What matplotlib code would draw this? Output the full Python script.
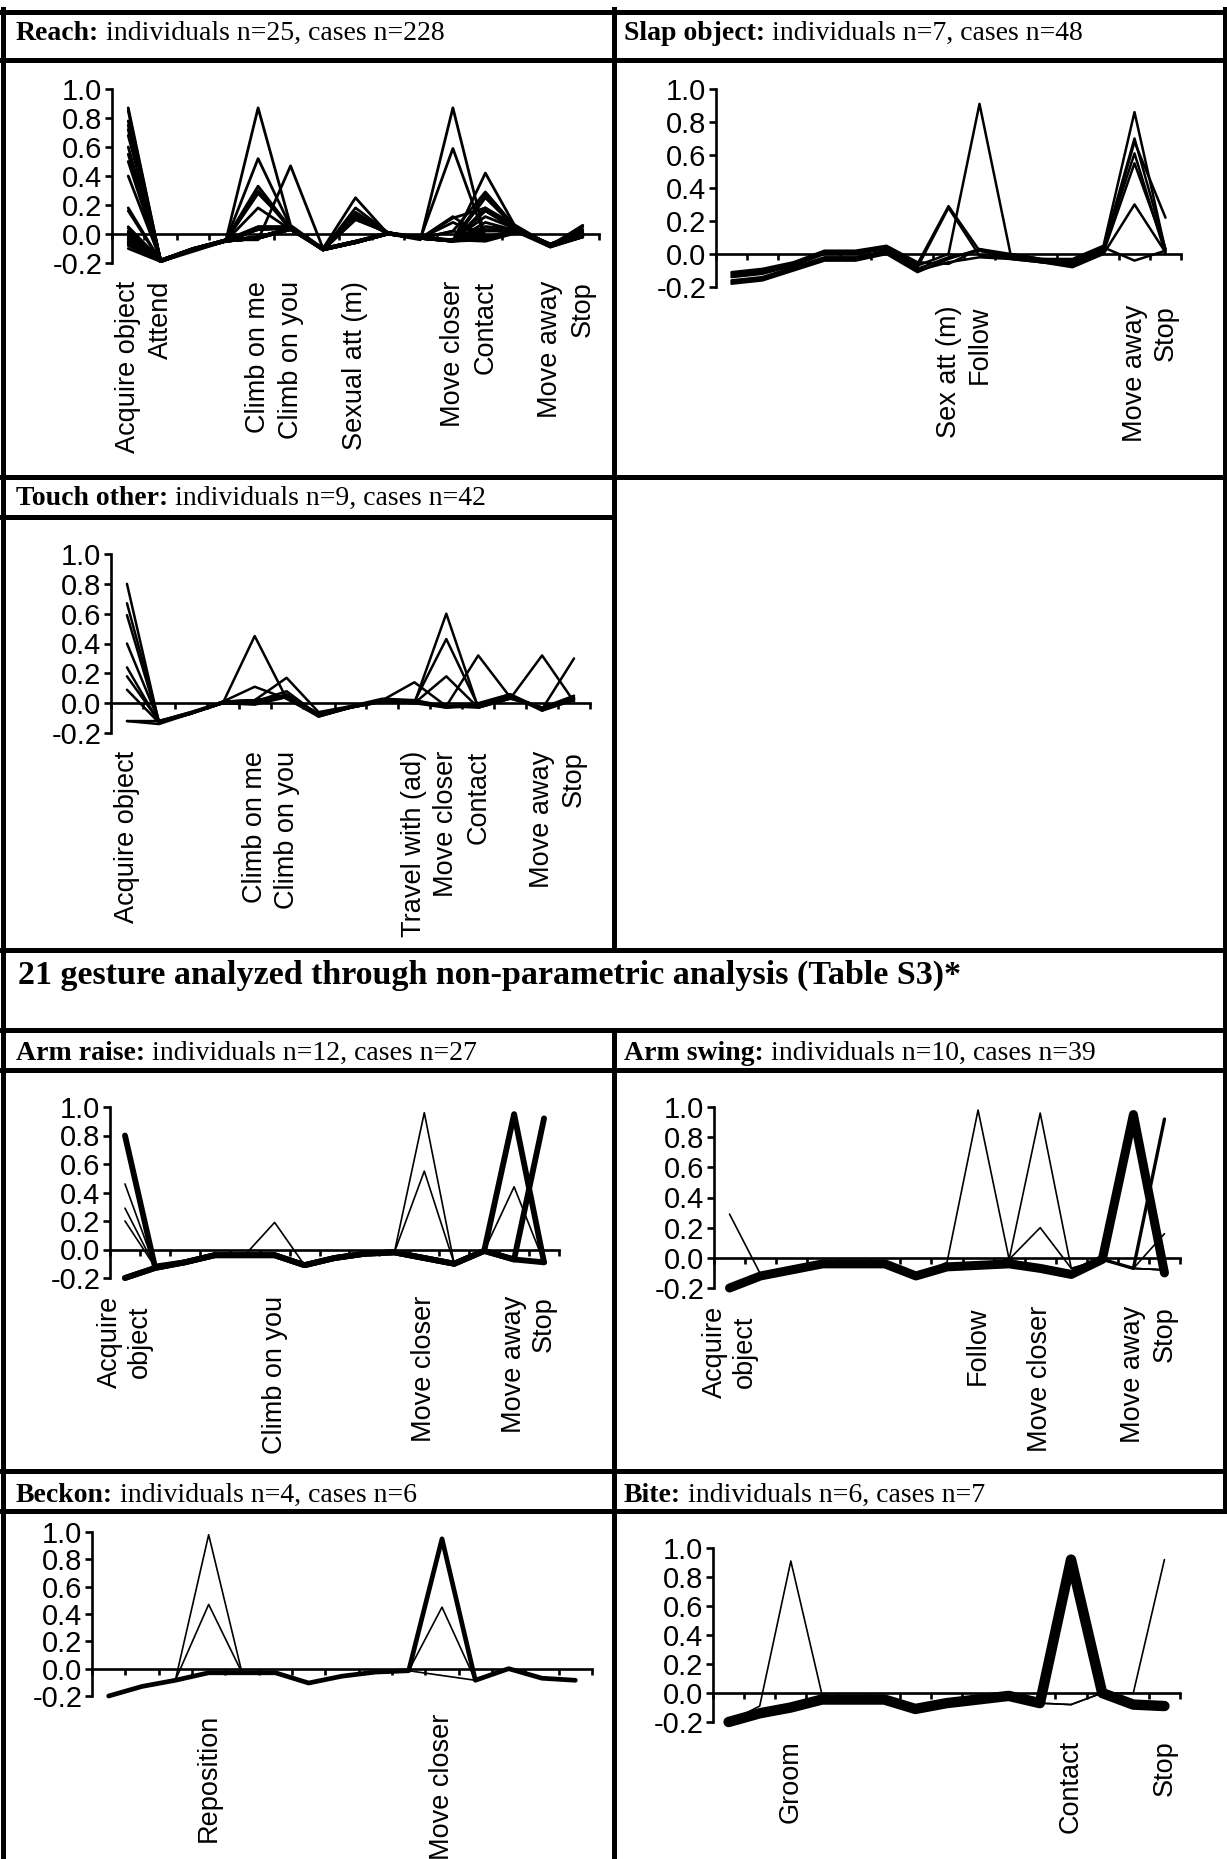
import numpy as np
import matplotlib
matplotlib.use('Agg')
import matplotlib.pyplot as plt
from matplotlib.ticker import FormatStrFormatter

W, H = 1227, 1859

plt.rcParams['font.family'] = ['Liberation Sans', 'DejaVu Sans']
plt.rcParams['axes.unicode_minus'] = False

# 15 outcome categories on every x axis, only some of them get a label
x = list(range(15))
yticks = [-0.2, 0.0, 0.2, 0.4, 0.6, 0.8, 1.0]

# ---- Reach: one profile per individual ----
reach = [
    [0.87, -0.19, -0.11, -0.05, -0.03, 0.03, -0.10, -0.06, 0.00, -0.03, -0.04, -0.03, 0.02, -0.08, -0.02],
    [0.85, -0.19, -0.11, -0.05, -0.03, 0.03, -0.10, -0.06, 0.00, -0.03, -0.05, -0.03, 0.02, -0.08, -0.02],
    [0.78, -0.18, -0.10, -0.04, -0.02, 0.04, -0.10, -0.05, 0.01, -0.03, -0.04, 0.05, 0.03, -0.07, -0.01],
    [0.75, -0.18, -0.10, -0.04, 0.03, 0.04, -0.10, -0.06, 0.00, -0.02, -0.04, -0.02, 0.03, -0.08, 0.00],
    [0.72, -0.19, -0.11, -0.05, -0.02, 0.03, -0.11, -0.06, 0.00, -0.03, 0.02, -0.03, 0.02, -0.08, -0.02],
    [0.68, -0.18, -0.10, -0.05, -0.03, 0.05, -0.10, -0.05, 0.01, -0.03, -0.04, 0.03, 0.03, -0.07, 0.00],
    [0.60, -0.19, -0.11, -0.04, -0.02, 0.04, -0.11, 0.10, 0.01, -0.03, -0.04, -0.02, 0.02, -0.08, -0.01],
    [0.55, -0.18, -0.10, -0.04, 0.05, 0.05, -0.10, -0.06, 0.00, -0.03, -0.04, 0.12, 0.03, -0.07, 0.00],
    [0.50, -0.19, -0.11, -0.05, -0.03, 0.04, -0.11, -0.06, 0.00, -0.03, 0.08, -0.02, 0.02, -0.08, -0.02],
    [0.40, -0.18, -0.11, -0.05, 0.18, 0.03, -0.10, -0.05, 0.00, -0.03, -0.04, 0.05, 0.03, -0.07, 0.00],
    [0.18, -0.19, -0.11, -0.05, 0.03, 0.04, -0.10, 0.15, 0.01, -0.03, -0.05, 0.16, 0.02, -0.08, 0.03],
    [0.16, -0.19, -0.11, -0.05, -0.02, 0.04, -0.11, 0.12, 0.00, -0.03, 0.11, 0.18, 0.02, -0.07, 0.01],
    [0.00, -0.19, -0.12, -0.05, 0.87, 0.06, -0.10, -0.06, 0.00, -0.03, -0.05, -0.04, 0.02, -0.08, -0.02],
    [-0.02, -0.18, -0.11, -0.05, 0.52, 0.05, -0.11, -0.06, 0.00, -0.03, 0.12, -0.03, 0.03, -0.07, 0.00],
    [-0.03, -0.19, -0.11, -0.04, 0.33, 0.04, -0.10, 0.25, 0.00, -0.03, -0.04, 0.27, 0.02, -0.08, 0.05],
    [-0.05, -0.19, -0.11, -0.05, 0.30, 0.03, -0.11, 0.18, 0.01, -0.02, -0.05, 0.25, 0.03, -0.07, 0.02],
    [-0.06, -0.18, -0.10, -0.05, 0.28, 0.05, -0.10, 0.13, 0.01, -0.03, 0.02, 0.29, 0.03, -0.08, 0.00],
    [-0.08, -0.18, -0.10, -0.04, -0.04, 0.47, -0.10, -0.05, 0.00, -0.03, -0.05, 0.42, 0.02, -0.08, -0.01],
    [-0.10, -0.19, -0.11, -0.05, -0.03, 0.05, -0.11, -0.06, 0.00, -0.04, 0.87, -0.03, 0.02, -0.09, -0.02],
    [0.02, -0.19, -0.11, -0.05, -0.02, 0.04, -0.10, -0.05, 0.00, -0.03, 0.59, -0.03, 0.02, -0.08, 0.00],
    [-0.04, -0.19, -0.11, -0.05, 0.05, 0.05, -0.11, 0.10, 0.01, -0.03, -0.04, 0.16, 0.03, -0.08, 0.06],
    [-0.07, -0.18, -0.11, -0.04, -0.03, 0.04, -0.11, -0.06, 0.00, -0.02, -0.05, 0.18, 0.05, -0.08, 0.01],
    [0.04, -0.19, -0.11, -0.05, -0.02, 0.04, -0.10, -0.06, 0.01, -0.03, -0.05, 0.02, 0.02, -0.07, 0.03],
    [0.05, -0.18, -0.10, -0.05, -0.03, 0.03, -0.10, -0.05, 0.00, -0.03, -0.04, -0.05, 0.01, -0.09, -0.02],
    [0.01, -0.19, -0.11, -0.05, -0.03, 0.04, -0.11, -0.06, 0.00, -0.03, -0.05, 0.08, 0.02, -0.08, -0.01],
]
reach_labels = {0: 'Acquire object', 1: 'Attend', 4: 'Climb on me', 5: 'Climb on you',
                7: 'Sexual att (m)', 10: 'Move closer', 11: 'Contact', 13: 'Move away', 14: 'Stop'}

# ---- Slap object ----
slap = [
    [-0.11, -0.09, -0.05, 0.02, 0.02, 0.05, -0.05, -0.06, 0.03, 0.00, -0.03, -0.03, 0.05, 0.86, 0.02],
    [-0.13, -0.11, -0.06, 0.01, 0.01, 0.04, -0.06, 0.29, 0.02, -0.01, -0.04, -0.05, 0.04, 0.70, 0.03],
    [-0.14, -0.12, -0.07, 0.00, 0.00, 0.03, -0.08, 0.28, -0.01, -0.02, -0.04, -0.06, 0.03, 0.61, 0.00],
    [-0.16, -0.14, -0.08, -0.02, -0.02, 0.02, -0.09, -0.02, 0.02, -0.02, -0.05, -0.06, 0.02, 0.68, 0.22],
    [-0.17, -0.15, -0.09, -0.03, -0.03, 0.01, -0.10, -0.05, -0.02, -0.03, -0.05, -0.07, 0.01, 0.55, 0.03],
    [-0.18, -0.16, -0.10, -0.04, -0.04, 0.00, -0.11, -0.03, 0.03, -0.03, -0.05, -0.08, 0.00, 0.30, 0.01],
    [-0.12, -0.10, -0.06, 0.01, 0.01, 0.04, -0.07, 0.00, 0.91, 0.00, -0.03, -0.04, 0.04, -0.04, 0.02],
]
slap_labels = {7: 'Sex att (m)', 8: 'Follow', 13: 'Move away', 14: 'Stop'}

# ---- Touch other ----
touch = [
    [0.80, -0.13, -0.07, 0.01, 0.02, 0.05, -0.07, -0.03, 0.02, 0.01, -0.02, -0.01, 0.05, -0.03, 0.02],
    [0.67, -0.12, -0.07, 0.00, 0.01, 0.08, -0.08, -0.03, 0.01, 0.00, -0.03, -0.02, 0.04, -0.04, 0.03],
    [0.59, -0.13, -0.07, 0.01, 0.11, 0.03, -0.08, -0.03, 0.02, 0.02, -0.02, -0.03, 0.04, -0.03, 0.04],
    [0.40, -0.12, -0.06, 0.01, 0.02, 0.17, -0.06, -0.02, 0.03, 0.02, -0.03, 0.00, 0.06, -0.05, 0.03],
    [0.24, -0.13, -0.07, 0.00, -0.01, 0.04, -0.08, -0.03, 0.01, 0.00, 0.18, -0.03, 0.03, -0.03, 0.05],
    [0.18, -0.12, -0.07, 0.00, 0.01, 0.05, -0.07, -0.03, 0.02, 0.01, 0.43, -0.02, 0.05, -0.05, 0.02],
    [0.09, -0.13, -0.07, 0.01, 0.02, 0.04, -0.08, -0.02, 0.02, 0.14, -0.02, 0.32, 0.04, -0.03, 0.03],
    [-0.12, -0.12, -0.06, 0.00, 0.45, 0.03, -0.09, -0.03, 0.01, 0.00, 0.60, -0.03, 0.03, 0.32, 0.01],
    [-0.12, -0.14, -0.07, 0.00, 0.00, 0.06, -0.09, -0.03, 0.02, 0.01, -0.02, -0.01, 0.06, -0.04, 0.30],
]
touch_labels = {0: 'Acquire object', 4: 'Climb on me', 5: 'Climb on you', 9: 'Travel with (ad)',
                10: 'Move closer', 11: 'Contact', 13: 'Move away', 14: 'Stop'}

# ---- Arm raise ----
arm_raise = [
    [-0.20, -0.13, -0.09, -0.04, -0.04, -0.04, -0.11, -0.06, -0.03, -0.02, -0.06, -0.10, -0.01, 0.95, -0.09],
    [-0.20, -0.13, -0.09, -0.04, -0.04, -0.04, -0.11, -0.06, -0.03, -0.02, -0.06, -0.10, -0.01, -0.07, 0.92],
    [0.80, -0.12, -0.09, -0.04, -0.04, -0.04, -0.11, -0.06, -0.03, -0.02, -0.06, -0.10, -0.01, -0.07, -0.09],
    [0.46, -0.12, -0.09, -0.04, -0.04, -0.04, -0.11, -0.06, -0.03, -0.02, -0.06, -0.10, -0.01, 0.44, -0.09],
    [0.29, -0.12, -0.09, -0.04, -0.04, -0.04, -0.11, -0.06, -0.03, -0.02, 0.55, -0.10, -0.01, -0.07, -0.09],
    [0.20, -0.12, -0.09, -0.04, -0.04, 0.19, -0.11, -0.06, -0.03, -0.02, -0.06, -0.10, -0.01, -0.07, -0.09],
    [-0.20, -0.13, -0.09, -0.04, -0.04, -0.04, -0.11, -0.06, -0.03, -0.02, 0.96, -0.10, -0.01, -0.07, -0.09],
]
arm_raise_lw = [4.2, 4.2, 4.2, 1.2, 1.2, 1.2, 1.2]
arm_raise_labels = {0: 'Acquire\nobject', 5: 'Climb on you', 10: 'Move closer', 13: 'Move away', 14: 'Stop'}

# ---- Arm swing ----
arm_swing = [
    [-0.20, -0.12, -0.08, -0.04, -0.04, -0.04, -0.12, -0.06, -0.05, -0.04, -0.07, -0.11, -0.01, 0.95, -0.10],
    [-0.20, -0.12, -0.08, -0.04, -0.04, -0.04, -0.12, -0.06, -0.05, -0.04, -0.07, -0.11, -0.01, -0.07, 0.92],
    [0.29, -0.11, -0.08, -0.04, -0.04, -0.04, -0.12, -0.06, -0.05, -0.04, -0.07, -0.11, -0.01, -0.07, 0.16],
    [-0.20, -0.12, -0.08, -0.04, -0.04, -0.04, -0.12, -0.03, 0.98, -0.01, -0.07, -0.11, -0.01, -0.07, -0.08],
    [-0.20, -0.12, -0.08, -0.04, -0.04, -0.04, -0.12, -0.06, -0.05, -0.01, 0.96, -0.07, -0.01, -0.07, -0.08],
    [-0.20, -0.12, -0.08, -0.04, -0.04, -0.04, -0.12, -0.06, -0.05, -0.01, 0.20, -0.07, -0.01, -0.07, -0.08],
]
arm_swing_lw = [6.5, 2.4, 1.2, 1.2, 1.2, 1.2]
arm_swing_labels = {0: 'Acquire\nobject', 8: 'Follow', 10: 'Move closer', 13: 'Move away', 14: 'Stop'}

# ---- Beckon ----
beckon = [
    [-0.20, -0.13, -0.085, -0.03, -0.03, -0.03, -0.105, -0.055, -0.025, -0.015, 0.95, -0.085, 0.00, -0.07, -0.085],
    [-0.20, -0.13, -0.085, 0.98, -0.03, -0.03, -0.105, -0.055, -0.025, -0.015, -0.05, -0.085, 0.00, -0.07, -0.085],
    [-0.20, -0.13, -0.085, 0.47, -0.03, -0.03, -0.105, -0.055, -0.025, -0.015, 0.45, -0.085, 0.00, -0.07, -0.085],
]
beckon_lw = [3.4, 1.2, 1.2]
beckon_labels = {3: 'Reposition', 10: 'Move closer'}

# ---- Bite ----
bite = [
    [-0.20, -0.14, -0.10, -0.045, -0.045, -0.045, -0.11, -0.07, -0.045, -0.02, -0.07, 0.92, 0.00, -0.08, -0.09],
    [-0.20, -0.09, 0.91, -0.01, -0.045, -0.045, -0.11, -0.07, -0.045, -0.02, -0.07, -0.08, 0.00, -0.08, -0.09],
    [-0.20, -0.14, -0.10, -0.045, -0.045, -0.045, -0.11, -0.07, -0.045, -0.02, -0.07, -0.08, 0.00, 0.00, 0.92],
]
bite_lw = [7.5, 1.2, 1.2]
bite_labels = {2: 'Groom', 11: 'Contact', 14: 'Stop'}

fig = plt.figure(figsize=(W / 100, H / 100), dpi=100)

# full-page axes in pixel units for the table rules and headings
page = fig.add_axes([0, 0, 1, 1])
page.set_xlim(0, W)
page.set_ylim(H, 0)
page.axis('off')

rule = dict(colors='black', linewidth=3.6, capstyle='projecting')
page.hlines([11.5, 59.5, 476.5, 949.5, 1030, 1069.5, 1471, 1510.5], 0, W, **rule)
page.hlines(517, 0, 613.5, **rule)
page.vlines(2.5, 9, H, **rule)
page.vlines(1224.5, 9, 1510.5, **rule)
page.vlines(613.5, 9, 949.5, **rule)
page.vlines(613.5, 1030, H, **rule)


def heading(xl, yb, bold, rest, size=20):
    t = page.text(xl, yb, bold, family='Liberation Serif', fontweight='bold',
                  fontsize=size, va='baseline', ha='left')
    page.annotate(rest, xy=(1, 0), xycoords=t, va='bottom', ha='left',
                  family='Liberation Serif', fontsize=size)


heading(16, 40, 'Reach:', ' individuals n=25, cases n=228')
heading(624, 40, 'Slap object:', ' individuals n=7, cases n=48')
heading(16, 505, 'Touch other:', ' individuals n=9, cases n=42')
page.text(18, 984, '21 gesture analyzed through non-parametric analysis (Table S3)*',
          family='Liberation Serif', fontweight='bold', fontsize=24.5, va='baseline')
heading(16, 1060, 'Arm raise:', ' individuals n=12, cases n=27')
heading(624, 1060, 'Arm swing:', ' individuals n=10, cases n=39')
heading(16, 1502, 'Beckon:', ' individuals n=4, cases n=6')
heading(624, 1502, 'Bite:', ' individuals n=6, cases n=7')


def panel(box, series, widths, labels):
    left, right, top, bottom = box
    ax = fig.add_axes([left / W, 1 - bottom / H, (right - left) / W, (bottom - top) / H])
    ax.patch.set_visible(False)
    ax.set_xlim(-0.5, 14.5)
    ax.set_ylim(-0.2, 1.0)
    for s, w in zip(series, widths):
        ax.plot(x, s, color='black', lw=w, solid_joinstyle='round',
                solid_capstyle='round', clip_on=False)
    ax.spines[['top', 'right']].set_visible(False)
    ax.spines['bottom'].set_position(('data', 0))
    for side in ('left', 'bottom'):
        ax.spines[side].set_linewidth(1.9)
    ax.set_xticks(np.arange(-0.5, 15, 1))
    ax.tick_params(axis='x', direction='out', length=4.5, width=1.9, labelbottom=False)
    ax.set_yticks(yticks)
    ax.yaxis.set_major_formatter(FormatStrFormatter('%.1f'))
    ax.tick_params(axis='y', direction='out', length=5, width=1.9, labelsize=21, pad=2)
    for i, lab in labels.items():
        ax.annotate(lab, (i, -0.2), xytext=(0, -13), textcoords='offset points',
                    rotation=90, ha='center', va='top', fontsize=19.5,
                    multialignment='center', annotation_clip=False)
    return ax


panel((112, 599, 89, 263), reach, [2.0] * len(reach), reach_labels)
panel((716, 1181, 89, 287), slap, [1.8] * len(slap), slap_labels)
panel((111, 590, 554, 733), touch, [1.8] * len(touch), touch_labels)
panel((110, 559, 1107, 1278), arm_raise, arm_raise_lw, arm_raise_labels)
panel((714, 1180, 1107, 1288), arm_swing, arm_swing_lw, arm_swing_labels)
panel((92, 592, 1532, 1696), beckon, beckon_lw, beckon_labels)
panel((713, 1180, 1548, 1722), bite, bite_lw, bite_labels)

fig.savefig('out.png', dpi=100)
